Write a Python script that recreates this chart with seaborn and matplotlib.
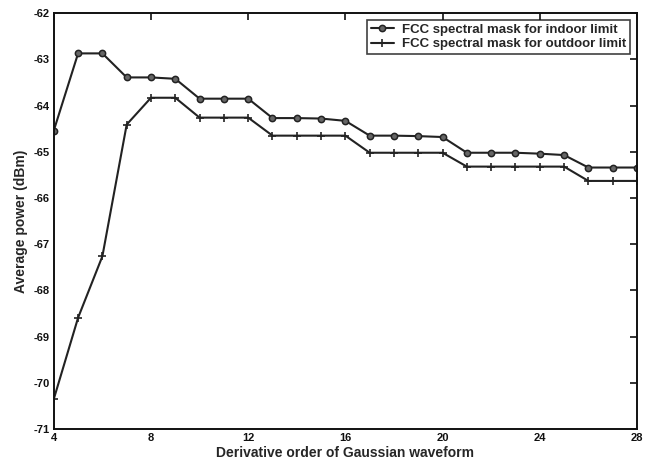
import numpy as np
import pandas as pd
import matplotlib
matplotlib.use('Agg')
import matplotlib.pyplot as plt
import seaborn as sns

# Data
order = list(range(4, 29))
indoor = [-64.54, -62.87, -62.87, -63.39, -63.39, -63.42, -63.85, -63.85, -63.85,
          -64.27, -64.27, -64.28, -64.33, -64.65, -64.65, -64.66, -64.68,
          -65.02, -65.02, -65.02, -65.04, -65.07, -65.34, -65.34, -65.34]
outdoor = [-70.35, -68.59, -67.26, -64.41, -63.83, -63.83, -64.26, -64.26, -64.26,
           -64.65, -64.65, -64.65, -64.65, -65.02, -65.02, -65.02, -65.02,
           -65.32, -65.32, -65.32, -65.32, -65.32, -65.63, -65.63, -65.63]
labels = ['FCC spectral mask for indoor limit', 'FCC spectral mask for outdoor limit']

sns.set_style('white')
plt.rcParams['font.family'] = ['Liberation Sans', 'DejaVu Sans']
plt.rcParams['font.weight'] = 'bold'
plt.rcParams['axes.unicode_minus'] = False

fig = plt.figure(figsize=(6.56, 4.71), dpi=100)
ax = fig.add_axes([0.082, 0.089, 0.889, 0.883])

# indoor: small round markers
sns.lineplot(x=order, y=indoor, label=labels[0], marker='o', color='#222222',
             linewidth=1.5, markersize=4.5, markerfacecolor='#666666',
             markeredgecolor='#222222', markeredgewidth=1.1, ax=ax)
# outdoor: plus markers
sns.lineplot(x=order, y=outdoor, label=labels[1], marker='+', color='#222222',
             linewidth=1.5, markersize=6, markeredgecolor='#222222',
             markeredgewidth=1.2, ax=ax)

ax.set_xlim(4, 28)
ax.set_ylim(-71, -62)
ax.set_xticks(range(4, 29, 4))
ax.set_yticks(range(-71, -61))
ax.tick_params(direction='in', top=True, right=True, length=5, width=1.2,
               labelsize=8, colors='#111111', pad=3)
for lab in ax.get_xticklabels() + ax.get_yticklabels():
    lab.set_fontweight('bold')
for s in ax.spines.values():
    s.set_color('#111111')
    s.set_linewidth(1.4)

ax.set_xlabel('Derivative order of Gaussian waveform', fontsize=10, fontweight='bold', labelpad=2)
ax.set_ylabel('Average power (dBm)', fontsize=10, fontweight='bold', labelpad=4)

leg = ax.legend(loc='upper right', frameon=True, fancybox=False,
                borderaxespad=0.5, handlelength=1.8, labelspacing=0.15,
                handletextpad=0.6, borderpad=0.3,
                prop={'weight': 'bold', 'size': 9.5})
leg.get_frame().set_edgecolor('#111111')
leg.get_frame().set_linewidth(1.2)

fig.savefig('out.png', dpi=100)
